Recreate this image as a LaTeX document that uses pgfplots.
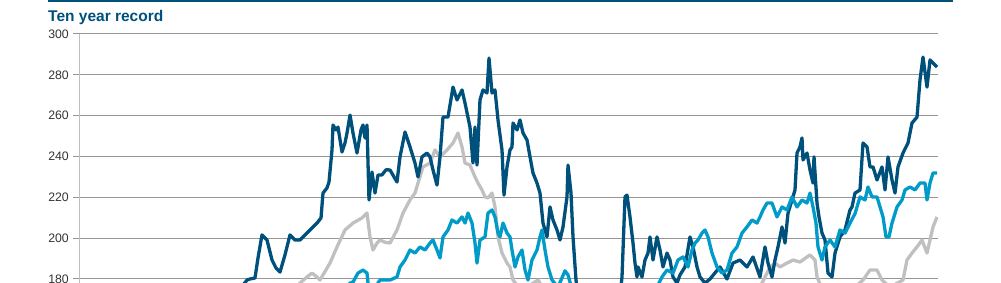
\documentclass[border=0pt]{standalone}
\usepackage{pgfplots}
\pgfplotsset{compat=1.18}
\usepackage{fontspec}
\setmainfont{Liberation Sans}
\definecolor{dblue}{RGB}{0,80,124}
\definecolor{cblue}{RGB}{0,155,200}
\definecolor{lgray}{RGB}{192,192,192}
\definecolor{ggray}{RGB}{150,150,150}
\definecolor{tgray}{RGB}{51,51,51}
\begin{document}
\begin{tikzpicture}[x=1pt,y=1pt]
\useasboundingbox (0,0) rectangle (1001,-283);
\draw[dblue, line width=2pt] (48,-1) -- (953,-1);
\node[anchor=base west, inner sep=0pt, text=dblue, font=\fontsize{15.5}{18}\selectfont\bfseries] at (48,-22) {Ten year record};
\begin{axis}[
  at={(79pt,-283pt)}, anchor=south west,
  width=859pt, height=249pt, scale only axis,
  xmin=79, xmax=938, ymin=178.04, ymax=300,
  hide x axis,
  axis y line*=left,
  y axis line style={draw=lgray, line width=1pt},
  ytick={180,200,...,300},
  ymajorgrids,
  major grid style={draw=ggray, line width=1pt},
  major tick length=6pt, tick align=outside,
  ytick style={draw=ggray, line width=1pt},
  yticklabel style={font=\fontsize{12.3}{14}\selectfont, text=tgray, inner sep=0pt, xshift=-4pt},
  /pgf/number format/assume math mode=true,
  every axis plot/.append style={line width=3.3pt, line join=round, no markers},
]
% gray series
\addplot[lgray] coordinates {(79,150)(200,160)(290,172)(300,178)(307,181)(312,182.9)(317,181)(320,179.5)(330,187.8)(337,195.7)(345,204)(353,207.4)(362,209.9)(367,212.3)(370,200.6)(373,194.2)(377,197.6)(380,199.1)(385,198)(390,197.6)(397,204)(403,212.3)(410,218.7)(415,222.1)(418,227)(423,234.9)(430,236.8)(435,243.2)(440,239.8)(447,243.2)(453,246.6)(458,251.5)(462,244.7)(465,236.8)(470,235.8)(475,230)(478,227)(482,223.6)(485,220.2)(488,219.7)(492,222.1)(495,215.3)(498,200.6)(502,192.7)(507,187.8)(510,185.9)(513,179.5)(520,175)(530,177)(538,179.5)(545,174)(600,165)(700,170)(760,176)(767,182.9)(770,185.9)(775,187.8)(780,185.9)(787,187.8)(793,189.3)(800,188.3)(807,190.8)(810,191.8)(815,189.3)(817,181)(825,172)(850,174)(863,179.5)(870,184.4)(877,184.4)(882,179.5)(890,176)(903,179.5)(907,189.3)(912,192.7)(917,195.7)(922,199.1)(927,192.7)(930,199.1)(933,205.5)(937,210.4)};
% dark blue series
\addplot[dblue] coordinates {(79,165)(150,160)(200,170)(240,175)(247,179.5)(250,180)(255,180.5)(258,190.3)(262,201.6)(267,199.1)(272,189.3)(276,185.4)(280,183.4)(285,191.8)(290,201.6)(295,199.1)(300,199.1)(308,203)(317,207.4)(321,209.9)(323,222.1)(327,224.6)(329,227.5)(332,243.2)(333,255.4)(336,253)(338,254.4)(342,242.2)(345,246.6)(347,251.5)(350,260.3)(353,251.5)(357,241.7)(361,253)(363,255.4)(365,249.1)(367,255.4)(369,218.7)(372,232.4)(375,222.1)(378,230.9)(382,231)(386,233.5)(390,233.4)(397,227.5)(400,239.8)(405,252)(410,244.7)(415,236.8)(418,230)(422,239.8)(427,241.7)(430,239.8)(433,233.4)(437,226)(440,239.8)(443,259.3)(448,259.3)(453,274)(457,267.7)(462,272.6)(465,266.2)(470,254.4)(473,236.8)(475,254.4)(477,235.8)(480,267.7)(483,272.6)(487,271.1)(489,288.2)(492,271.1)(495,272.6)(498,257.9)(502,243.2)(504,221.1)(507,234.9)(510,243.2)(512,244.7)(513,256.4)(517,253)(520,257.9)(523,251.5)(527,248.1)(530,239.8)(533,231.9)(537,227)(540,222.1)(543,207.4)(547,200.6)(550,215.3)(553,208.9)(557,204)(560,199.1)(563,205.5)(567,220.2)(568,235.8)(571,222.1)(573,200.6)(576,179.5)(578,170)(600,165)(620,172)(622,181)(625,220.2)(627,221.1)(630,210.4)(633,197.6)(635,187.8)(637,181)(638,185.9)(642,181)(645,189.3)(648,192.7)(650,200.6)(653,189.3)(657,200.6)(660,194.2)(663,185.9)(667,192.7)(670,189.3)(673,181)(677,178)(680,182)(685,185.9)(690,200.6)(693,195.7)(697,185.9)(700,181)(705,178)(710,180)(715,183)(720,185.9)(727,180)(733,187.8)(740,189.3)(747,185.9)(753,190.8)(760,181)(765,195.7)(768,187.8)(772,181)(775,189.3)(778,195.7)(782,205.5)(785,197.6)(788,212.3)(792,218.7)(795,223.6)(797,241.7)(800,244.7)(802,249.1)(803,238.3)(807,241.7)(810,233.4)(813,227)(814,239.8)(817,217.2)(819,210.4)(822,202.5)(825,199.1)(828,182.9)(832,181)(835,192.7)(840,200.6)(845,204)(850,213.8)(852,215.3)(855,222.1)(860,223.6)(863,246.6)(867,244.7)(870,234.9)(873,234.9)(877,228.5)(882,234.9)(885,223.6)(888,239.8)(892,228.5)(895,222.1)(898,234.9)(903,241.7)(908,246.6)(912,256.4)(917,259.3)(920,277.5)(923,288.7)(927,274)(930,287.3)(933,285.8)(937,283.8)};
% cyan series
\addplot[cblue] coordinates {(79,140)(250,160)(340,172)(350,178)(353,178.5)(358,182.9)(363,184.4)(367,182.9)(368,178)(372,172)(378,178)(380,179.5)(390,179.5)(397,181)(400,185.9)(405,189.3)(410,194.2)(415,192.7)(420,195.7)(425,194.2)(430,197.6)(433,199.1)(437,194.2)(440,190.3)(443,200.6)(448,204)(452,208.9)(457,207.4)(462,210.4)(465,207.4)(468,212.3)(472,207.4)(475,197.6)(477,187.8)(480,199.1)(485,200.6)(488,212.3)(492,213.8)(495,210.4)(498,202.5)(500,200.6)(503,207.4)(507,202.5)(510,200.6)(512,194.2)(515,185.9)(518,190.8)(522,194.2)(525,184.4)(528,179.5)(532,189.3)(537,194.2)(540,200.6)(542,204)(545,194.2)(548,185.9)(552,179.5)(558,176)(565,184)(568,182)(572,175)(620,165)(655,174)(662,181)(667,184.4)(673,182.9)(678,189.3)(683,190.8)(688,185.9)(692,194.2)(695,197.6)(698,199.1)(702,202.5)(705,204)(708,200.6)(712,192.7)(717,185.9)(722,182.9)(727,184.4)(732,192.7)(737,195.7)(742,202.5)(747,205.5)(752,208.9)(757,207.4)(760,210.4)(763,213.8)(767,217.2)(772,217.2)(777,210.4)(782,215.3)(787,213.8)(792,220.2)(797,215.3)(802,218.7)(807,217.2)(810,222.1)(813,215.3)(816,207.4)(818,195.7)(822,189.3)(825,195.7)(830,199.1)(835,195.7)(840,204)(845,202.5)(850,207.4)(855,212)(860,220.2)(865,218.7)(868,225.1)(872,220.2)(877,220.2)(880,215.3)(883,210.4)(886,200.6)(889,200.6)(892,207.4)(897,215.3)(902,218.7)(905,223.6)(910,225.1)(915,223.6)(920,227)(925,227)(927,218.7)(930,227)(933,231.9)(937,231.9)};
\end{axis}
\end{tikzpicture}
\end{document}
